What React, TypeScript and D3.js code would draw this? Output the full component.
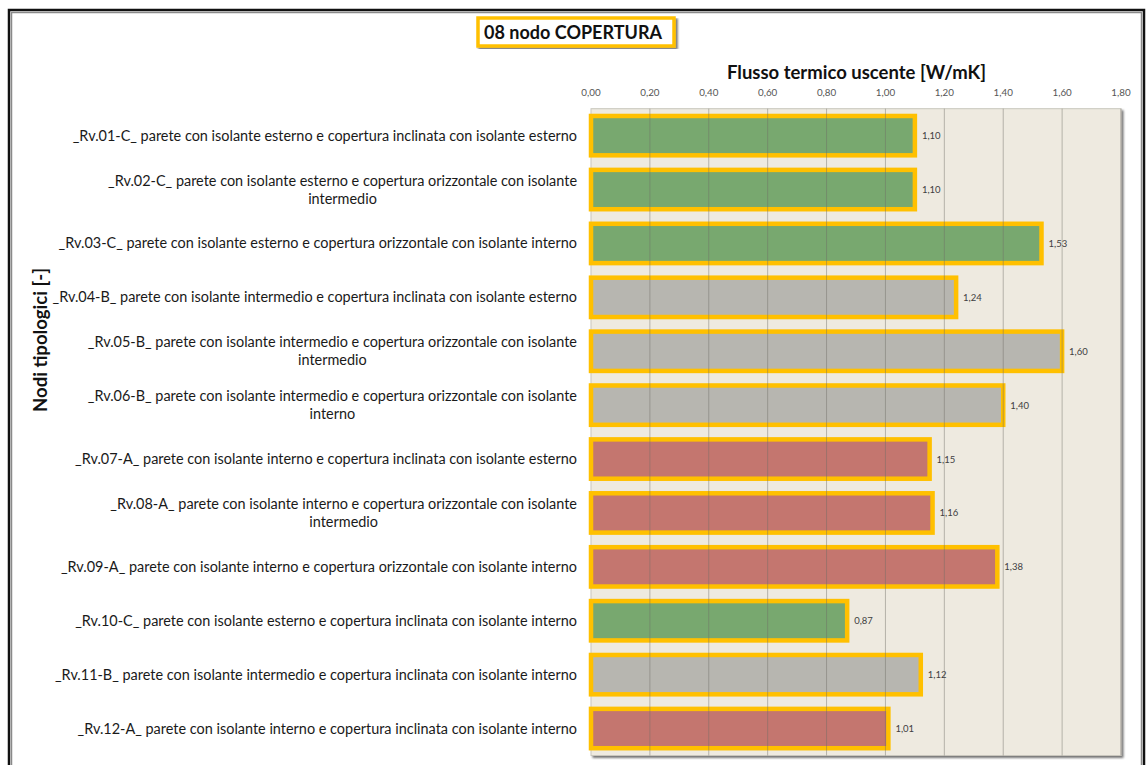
import React from "react";
import * as d3 from "d3";

const W = 1146;
const H = 765;

const categories: string[][] = [
  ["_Rv.01-C_ parete con isolante esterno e copertura inclinata con isolante esterno"],
  ["_Rv.02-C_ parete con isolante esterno e copertura orizzontale con isolante", "intermedio"],
  ["_Rv.03-C_ parete con isolante esterno e copertura orizzontale con isolante interno"],
  ["_Rv.04-B_ parete con isolante intermedio e copertura inclinata con isolante esterno"],
  ["_Rv.05-B_ parete con isolante intermedio e copertura orizzontale con isolante", "intermedio"],
  ["_Rv.06-B_ parete con isolante intermedio e copertura orizzontale con isolante", "interno"],
  ["_Rv.07-A_ parete con isolante interno e copertura inclinata con isolante esterno"],
  ["_Rv.08-A_ parete con isolante interno e copertura orizzontale con isolante", "intermedio"],
  ["_Rv.09-A_ parete con isolante interno e copertura orizzontale con isolante interno"],
  ["_Rv.10-C_ parete con isolante esterno e copertura inclinata con isolante interno"],
  ["_Rv.11-B_ parete con isolante intermedio e copertura inclinata con isolante interno"],
  ["_Rv.12-A_ parete con isolante interno e copertura inclinata con isolante interno"],
];

const values: number[] = [1.1, 1.1, 1.53, 1.24, 1.6, 1.4, 1.15, 1.16, 1.38, 0.87, 1.12, 1.01];

const classes: string[] = ["C", "C", "C", "B", "B", "B", "A", "A", "A", "C", "B", "A"];

const tickValues: number[] = [0, 0.2, 0.4, 0.6, 0.8, 1.0, 1.2, 1.4, 1.6, 1.8];

const classColors: Record<string, string> = {
  C: "#78a86f",
  B: "#b7b6b0",
  A: "#c4766f",
};

const LABEL_FONT = "Lato";
const LABEL_SIZE = 14.45;

const fmt = (v: number, d: number) => v.toFixed(d).replace(".", ",");

let measureCtx: CanvasRenderingContext2D | null = null;
function textWidth(s: string, font: string): number {
  if (!measureCtx) {
    const c = document.createElement("canvas");
    measureCtx = c.getContext("2d");
  }
  if (!measureCtx) return s.length * 6.3;
  measureCtx.font = font;
  return measureCtx.measureText(s).width;
}

export default function App() {
  const plot = { left: 591, right: 1121, top: 108.7, bottom: 755.5 };

  const x = d3.scaleLinear().domain([0, 1.8]).range([plot.left, plot.right]);
  const y = d3
    .scaleBand<number>()
    .domain(d3.range(values.length))
    .range([plot.top, plot.bottom])
    .paddingInner(0.27)
    .paddingOuter(0.135);

  const labelRight = 577;

  return (
    <svg
      width={W}
      height={H}
      style={{ position: "absolute", left: 0, top: 0, background: "#fff" }}
      fontFamily={LABEL_FONT}
    >
      <defs>
        <filter id="shadow" x="-5%" y="-5%" width="115%" height="115%">
          <feGaussianBlur in="SourceAlpha" stdDeviation="1.2" />
          <feOffset dx="2" dy="2" result="b" />
          <feComponentTransfer>
            <feFuncA type="linear" slope="0.55" />
          </feComponentTransfer>
          <feMerge>
            <feMergeNode />
            <feMergeNode in="SourceGraphic" />
          </feMerge>
        </filter>
      </defs>

      {/* outer frame */}
      <rect x={9} y={10} width={1135} height={800} fill="none" stroke="#111" strokeWidth={2.5} />
      <rect x={11.5} y={12.5} width={1130} height={800} fill="none" stroke="#8a8a8a" strokeWidth={1.5} />

      {/* chart title box */}
      <rect
        x={478}
        y={18}
        width={196}
        height={28}
        fill="#fff"
        stroke="#ffc000"
        strokeWidth={3.5}
        filter="url(#shadow)"
      />
      <text
        x={484}
        y={39}
        textLength={178}
        lengthAdjust="spacingAndGlyphs"
        fontSize={18}
        fontWeight="bold"
        fill="#111"
      >
        08 nodo COPERTURA
      </text>

      {/* axis title */}
      <text
        x={727}
        y={79}
        textLength={259}
        lengthAdjust="spacingAndGlyphs"
        fontSize={18.5}
        fontWeight="bold"
        fill="#111"
      >
        Flusso termico uscente [W/mK]
      </text>

      {/* tick labels */}
      {tickValues.map((t) => (
        <text
          key={t}
          x={x(t)}
          y={96}
          textAnchor="middle"
          fontSize={9.8}
          fill="#555"
        >
          {fmt(t, 2)}
        </text>
      ))}

      {/* plot area */}
      <rect
        x={plot.left}
        y={plot.top}
        width={plot.right - plot.left}
        height={plot.bottom - plot.top}
        fill="#eeeae0"
        stroke="#c9c6bd"
        strokeWidth={1}
        filter="url(#shadow)"
      />

      {/* bars */}
      {values.map((v, i) => (
        <rect
          key={i}
          x={x(0)}
          y={y(i)!}
          width={x(v) - x(0)}
          height={y.bandwidth()}
          fill={classColors[classes[i]]}
          stroke="#ffc000"
          strokeWidth={4.5}
        />
      ))}

      {/* gridlines */}
      {tickValues.slice(1).map((t) => (
        <line
          key={t}
          x1={x(t)}
          x2={x(t)}
          y1={plot.top}
          y2={plot.bottom}
          stroke="#6f6d66"
          strokeOpacity={0.45}
          strokeWidth={1}
        />
      ))}

      {/* value labels */}
      {values.map((v, i) => (
        <text
          key={i}
          x={x(v) + 7}
          y={y(i)! + y.bandwidth() / 2 + 3.5}
          fontSize={9.5}
          fill="#404040"
        >
          {fmt(v, 2)}
        </text>
      ))}

      {/* category labels */}
      {categories.map((lines, i) => {
        const cy = y(i)! + y.bandwidth() / 2;
        if (lines.length === 1) {
          return (
            <text
              key={i}
              x={labelRight}
              y={cy + 5}
              textAnchor="end"
              fontSize={LABEL_SIZE}
              fill="#1a1a1a"
            >
              {lines[0]}
            </text>
          );
        }
        const w = textWidth(lines[0], `${LABEL_SIZE}px ${LABEL_FONT}`);
        const mid = labelRight - w / 2;
        return (
          <g key={i}>
            <text x={labelRight} y={cy - 4} textAnchor="end" fontSize={LABEL_SIZE} fill="#1a1a1a">
              {lines[0]}
            </text>
            <text x={mid} y={cy + 14} textAnchor="middle" fontSize={LABEL_SIZE} fill="#1a1a1a">
              {lines[1]}
            </text>
          </g>
        );
      })}

      {/* y axis title */}
      <text
        transform={`translate(47,340) rotate(-90)`}
        textAnchor="middle"
        textLength={144}
        lengthAdjust="spacingAndGlyphs"
        fontSize={18.5}
        fontWeight="bold"
        fill="#111"
      >
        Nodi tipologici [-]
      </text>
    </svg>
  );
}
